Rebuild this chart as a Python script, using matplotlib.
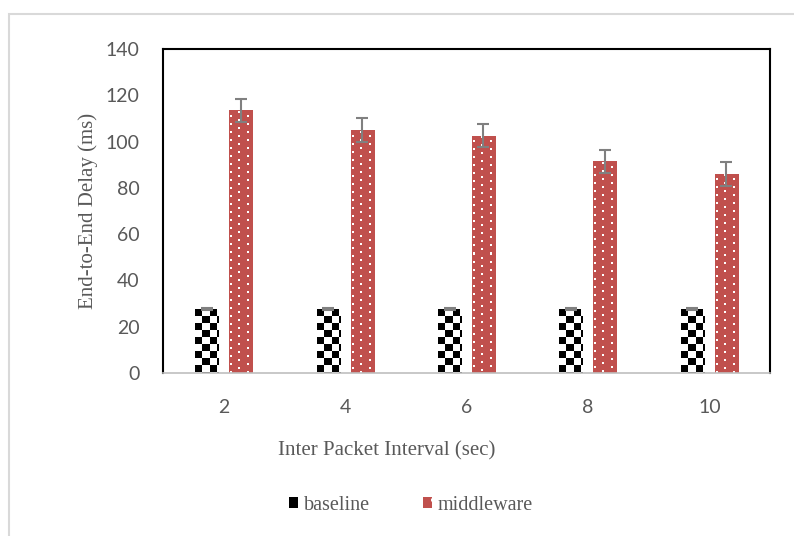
import numpy as np
import matplotlib.pyplot as plt
from matplotlib.patches import Patch, Rectangle
from matplotlib.font_manager import FontProperties

intervals = ['2', '4', '6', '8', '10']
baseline = [27.5, 27.5, 27.5, 27.5, 27.5]
baseline_err = [0.4, 0.4, 0.4, 0.4, 0.4]
middleware = [113.5, 105.0, 102.5, 91.5, 86.0]
middleware_err = [5.0, 5.0, 5.0, 5.0, 5.0]

red = '#C0504D'
grey_txt = '#595959'
err_col = '#808080'


def checker(h, w, cell=7):
    """黑白棋盘格纹理"""
    yy, xx = np.mgrid[0:h, 0:w]
    on = ((yy // cell) + (xx // cell)) % 2 == 0
    img = np.ones((h, w, 3))
    img[on] = 0.0
    return img


def dots(h, w):
    """红底白点纹理"""
    img = np.zeros((h, w, 3))
    img[:] = np.array([0xC0, 0x50, 0x4D]) / 255.0
    for i, y in enumerate(range(1, h - 1, 4)):
        off = 9 if i % 2 == 0 else 1
        for x in range(off, w - 1, 16):
            img[y:y + 2, x:x + 2] = 1.0
    return img


def fill_bars(ax, bars, maker):
    """用图片纹理填充每个柱子"""
    for b in bars:
        x0, y0 = b.get_x(), b.get_y()
        x1, y1 = x0 + b.get_width(), y0 + b.get_height()
        (px0, py0), (px1, py1) = ax.transData.transform([(x0, y0), (x1, y1)])
        w = max(int(round(px1 - px0)), 1)
        h = max(int(round(py1 - py0)), 1)
        im = ax.imshow(maker(h, w), extent=(x0, x1, y0, y1), aspect='auto',
                       interpolation='nearest', zorder=2, origin='upper')
        im.set_clip_path(b)


fig = plt.figure(figsize=(7.94, 5.36), dpi=100)
ax = fig.add_axes([163 / 794, 1 - 373 / 536, 607 / 794, 324 / 536])

x = np.arange(len(intervals))
bw = 0.19
off = 0.14
ax.set_xlim(-0.5, len(intervals) - 0.5)
ax.set_ylim(0, 140)

b1 = ax.bar(x - off, baseline, bw, color='white', zorder=1)
b2 = ax.bar(x + off, middleware, bw, color=red, zorder=1)
fill_bars(ax, b1, checker)
fill_bars(ax, b2, dots)

ax.errorbar(x - off, baseline, yerr=baseline_err, fmt='none', ecolor=err_col,
            elinewidth=1.5, capsize=4.3, capthick=1.5, zorder=3)
ax.errorbar(x + off, middleware, yerr=middleware_err, fmt='none', ecolor=err_col,
            elinewidth=1.5, capsize=4.3, capthick=1.5, zorder=3)

ax.set_xticks(x)
ax.set_xticklabels(intervals)
ax.set_yticks(np.arange(0, 141, 20))
ax.tick_params(length=0, labelsize=14, labelcolor=grey_txt)
ax.tick_params(axis='x', pad=19)
ax.tick_params(axis='y', pad=17)
for lab in ax.get_xticklabels() + ax.get_yticklabels():
    lab.set_family('Lato')

for s in ['left', 'top', 'right']:
    ax.spines[s].set_color('black')
    ax.spines[s].set_linewidth(1.5)
ax.spines['bottom'].set_color('#BFBFBF')
ax.spines['bottom'].set_linewidth(1.2)

serif = FontProperties(family='Liberation Serif', size=15)
ax.set_ylabel('End-to-End Delay (ms)', fontproperties=serif, color=grey_txt)
ax.yaxis.set_label_coords((88 - 163) / 607, 0.5)
ax.yaxis.label.set_va('center')
ax.set_xlabel('Inter Packet Interval (sec)', fontproperties=serif, color=grey_txt)
ax.xaxis.set_label_coords((387 - 163) / 607, (373 - 451) / 324)
ax.xaxis.label.set_va('center')

handles = [Patch(facecolor='black', edgecolor='none', label='baseline'),
           Patch(facecolor=red, edgecolor='white', hatch='.', linewidth=0, label='middleware')]
leg_font = FontProperties(family='Liberation Serif', size=14.5)
leg = ax.legend(handles=handles, loc='center', bbox_to_anchor=(411 / 794, 1 - 505 / 536),
                bbox_transform=fig.transFigure, ncol=2, frameon=False,
                handlelength=0.45, handleheight=0.45, handletextpad=0.3, columnspacing=2.6,
                prop=leg_font)
for t in leg.get_texts():
    t.set_fontproperties(leg_font)
    t.set_color(grey_txt)

# 外框
fig.patches.append(Rectangle((9 / 794, -0.1), 1.2, 1 - 14 / 536 + 0.1,
                             transform=fig.transFigure, fill=False,
                             edgecolor='#D9D9D9', linewidth=1.5))

fig.savefig('out.png', dpi=100)
